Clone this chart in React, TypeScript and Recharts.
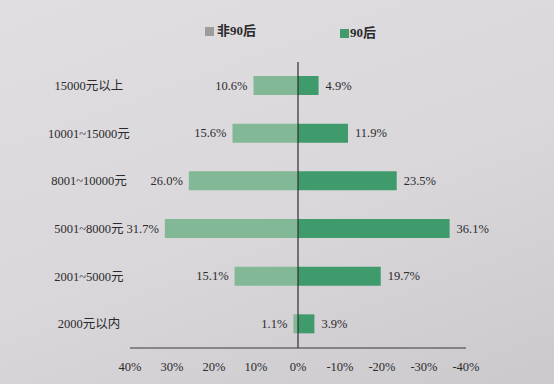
import { Bar, BarChart, LabelList, ReferenceLine, XAxis, YAxis } from "recharts";

const categories = ["15000元以上", "10001~15000元", "8001~10000元", "5001~8000元", "2001~5000元", "2000元以内"];
const non90 = [10.6, 15.6, 26.0, 31.7, 15.1, 1.1];
const post90 = [4.9, 11.9, 23.5, 36.1, 19.7, 3.9];
const xTicks = [40, 30, 20, 10, 0, -10, -20, -30, -40];

const data = categories.map((c, i) => ({ name: c, non90: non90[i], post90: -post90[i] }));

const FONT = "'Liberation Serif', 'Noto Sans CJK SC', serif";
const TEXT = "#2b2a2c";

function CategoryTick({ y, payload }: { y?: number; payload?: { value: string } }) {
  return (
    <text x={89} y={y} dy={4} textAnchor="middle" fontSize={12.5} fill={TEXT} fontFamily={FONT}>
      {payload?.value}
    </text>
  );
}

function makeLabel(side: "left" | "right") {
  return function ValueLabel(props: any) {
    const { x, y, width, height, value } = props;
    const a = Number(x), w = Number(width);
    const lo = Math.min(a, a + w);
    const hi = Math.max(a, a + w);
    const txt = Math.abs(Number(value)).toFixed(1) + "%";
    return (
      <text
        x={side === "left" ? lo - 6 : hi + 7}
        y={Number(y) + Number(height) / 2 + 4}
        textAnchor={side === "left" ? "end" : "start"}
        fontSize={12.5}
        fill={TEXT}
        fontFamily={FONT}
      >
        {txt}
      </text>
    );
  };
}

export default function App() {
  return (
    <div
      style={{
        position: "absolute",
        left: 0,
        top: 0,
        width: 554,
        height: 384,
        background: "linear-gradient(160deg, #e0dee1 0%, #d9d7da 55%, #cbc9cc 100%)",
        fontFamily: FONT,
        overflow: "hidden",
      }}
    >
      <div style={{ position: "absolute", left: 205, top: 27, width: 9, height: 9, background: "#9b9d9b" }} />
      <div style={{ position: "absolute", left: 217, top: 22, fontSize: 13, fontWeight: 700, color: TEXT, lineHeight: "18px" }}>非90后</div>
      <div style={{ position: "absolute", left: 340, top: 29, width: 9, height: 9, background: "#3f9a6c" }} />
      <div style={{ position: "absolute", left: 350, top: 24, fontSize: 13, fontWeight: 700, color: TEXT, lineHeight: "18px" }}>90后</div>

      <BarChart
        width={554}
        height={384}
        data={data}
        layout="vertical"
        stackOffset="sign"
        margin={{ top: 62, right: 88, left: 0, bottom: 6 }}
        barSize={19}
        style={{ position: "absolute", left: 0, top: 0 }}
      >
        <XAxis
          type="number"
          domain={[-40, 40]}
          ticks={xTicks}
          reversed
          tickFormatter={(v: number) => `${v}%`}
          tick={{ fontSize: 12.5, fill: TEXT, fontFamily: FONT }}
          tickLine={false}
          axisLine={{ stroke: "#3a393b", strokeWidth: 1.2 }}
          tickMargin={8}
          height={30}
        />
        <YAxis
          type="category"
          dataKey="name"
          width={130}
          axisLine={false}
          tickLine={false}
          tick={<CategoryTick />}
        />
        <Bar dataKey="non90" stackId="a" fill="#82b896" isAnimationActive={false}>
          <LabelList dataKey="non90" content={makeLabel("left")} />
        </Bar>
        <Bar dataKey="post90" stackId="a" fill="#3f9a6c" isAnimationActive={false}>
          <LabelList dataKey="post90" content={makeLabel("right")} />
        </Bar>
        <ReferenceLine x={0} stroke="#2e2d2f" strokeWidth={1.2} />
      </BarChart>
    </div>
  );
}
